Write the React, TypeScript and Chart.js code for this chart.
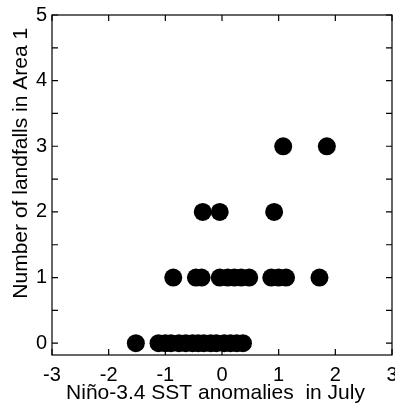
import React, { useEffect, useRef } from "react";
import { Chart, registerables } from "chart.js";

Chart.register(...registerables);

const xTickValues = [-3, -2, -1, 0, 1, 2, 3];
const yTickValues = [0, 0.5, 1, 1.5, 2, 2.5, 3, 3.5, 4, 4.5, 5];

const anomaliesY0 = [-1.52, -1.12, -1.0, -0.9, -0.76, -0.64, -0.52, -0.42, -0.32, -0.2, -0.1, 0.04, 0.15, 0.26, 0.37];
const anomaliesY1 = [-0.86, -0.46, -0.36, -0.04, 0.1, 0.22, 0.34, 0.48, 0.87, 1.0, 1.13, 1.72];
const anomaliesY2 = [-0.34, -0.04, 0.92];
const anomaliesY3 = [1.08, 1.85];

const xTitle = "Niño-3.4 SST anomalies  in July";
const yTitle = "Number of landfalls in Area 1";

const FONT = "'Liberation Sans', Arial, Helvetica, sans-serif";

const boxTicks = {
  id: "boxTicks",
  afterDraw(chart: any) {
    const { ctx, chartArea } = chart;
    const xs = chart.scales.x;
    const ys = chart.scales.y;
    ctx.save();
    ctx.strokeStyle = "#000";
    ctx.lineWidth = 1.2;
    ctx.strokeRect(chartArea.left, chartArea.top, chartArea.right - chartArea.left, chartArea.bottom - chartArea.top);
    ctx.beginPath();
    xTickValues.forEach((v) => {
      const px = xs.getPixelForValue(v);
      ctx.moveTo(px, chartArea.bottom);
      ctx.lineTo(px, chartArea.bottom - 6);
      ctx.moveTo(px, chartArea.top);
      ctx.lineTo(px, chartArea.top + 6);
    });
    yTickValues.forEach((v) => {
      const py = ys.getPixelForValue(v);
      ctx.moveTo(chartArea.left, py);
      ctx.lineTo(chartArea.left + 6, py);
      ctx.moveTo(chartArea.right, py);
      ctx.lineTo(chartArea.right - 6, py);
    });
    ctx.stroke();

    // axis titles
    ctx.fillStyle = "#000";
    ctx.font = `21px ${FONT}`;
    ctx.textAlign = "center";
    ctx.textBaseline = "alphabetic";
    const cx = (chartArea.left + chartArea.right) / 2 - 6.5;
    ctx.fillText(xTitle, cx, chartArea.bottom + 44);
    ctx.save();
    const cy = chartArea.top + (chartArea.bottom - chartArea.top) * 0.436;
    ctx.translate(chartArea.left - 25, cy);
    ctx.rotate(-Math.PI / 2);
    ctx.fillText(yTitle, 0, 0);
    ctx.restore();
    ctx.restore();
  },
};

export default function App() {
  const ref = useRef<HTMLCanvasElement>(null);
  useEffect(() => {
    document.body.style.margin = "0";
    const mk = (xs: number[], y: number) => xs.map((x) => ({ x, y }));
    const chart = new Chart(ref.current!, {
      type: "scatter",
      data: {
        datasets: [
          {
            data: [
              ...mk(anomaliesY0, 0),
              ...mk(anomaliesY1, 1),
              ...mk(anomaliesY2, 2),
              ...mk(anomaliesY3, 3),
            ],
            backgroundColor: "#000",
            borderWidth: 0,
            pointRadius: 9,
            pointHoverRadius: 9,
          },
        ],
      },
      options: {
        responsive: false,
        animation: false,
        events: [],
        layout: { autoPadding: false, padding: { top: 15, right: 3, left: 0, bottom: 0 } },
        plugins: { legend: { display: false }, tooltip: { enabled: false } },
        scales: {
          x: {
            type: "linear",
            min: -3,
            max: 3,
            border: { display: false },
            grid: { display: false, drawTicks: false },
            afterBuildTicks: (s: any) => {
              s.ticks = xTickValues.map((v) => ({ value: v }));
            },
            afterFit: (s: any) => {
              s.height = 51;
              s.paddingLeft = 0;
              s.paddingRight = 0;
            },
            ticks: {
              color: "#000",
              padding: 8,
              maxRotation: 0,
              font: { family: FONT, size: 20 },
              callback: (v: any) => String(v),
            },
            title: { display: false },
          },
          y: {
            type: "linear",
            min: -0.18,
            max: 5,
            border: { display: false },
            grid: { display: false, drawTicks: false },
            afterBuildTicks: (s: any) => {
              s.ticks = yTickValues.map((v) => ({ value: v }));
            },
            afterFit: (s: any) => {
              s.width = 52;
              s.paddingTop = 0;
              s.paddingBottom = 0;
            },
            ticks: {
              color: "#000",
              padding: 5,
              font: { family: FONT, size: 20 },
              callback: (v: any) => (Number.isInteger(v) ? String(v) : ""),
            },
            title: { display: false },
          },
        },
      },
      plugins: [boxTicks],
    });
    return () => chart.destroy();
  }, []);
  return (
    <div style={{ width: 395, height: 406 }}>
      <canvas ref={ref} width={395} height={406} style={{ display: "block" }} />
    </div>
  );
}
